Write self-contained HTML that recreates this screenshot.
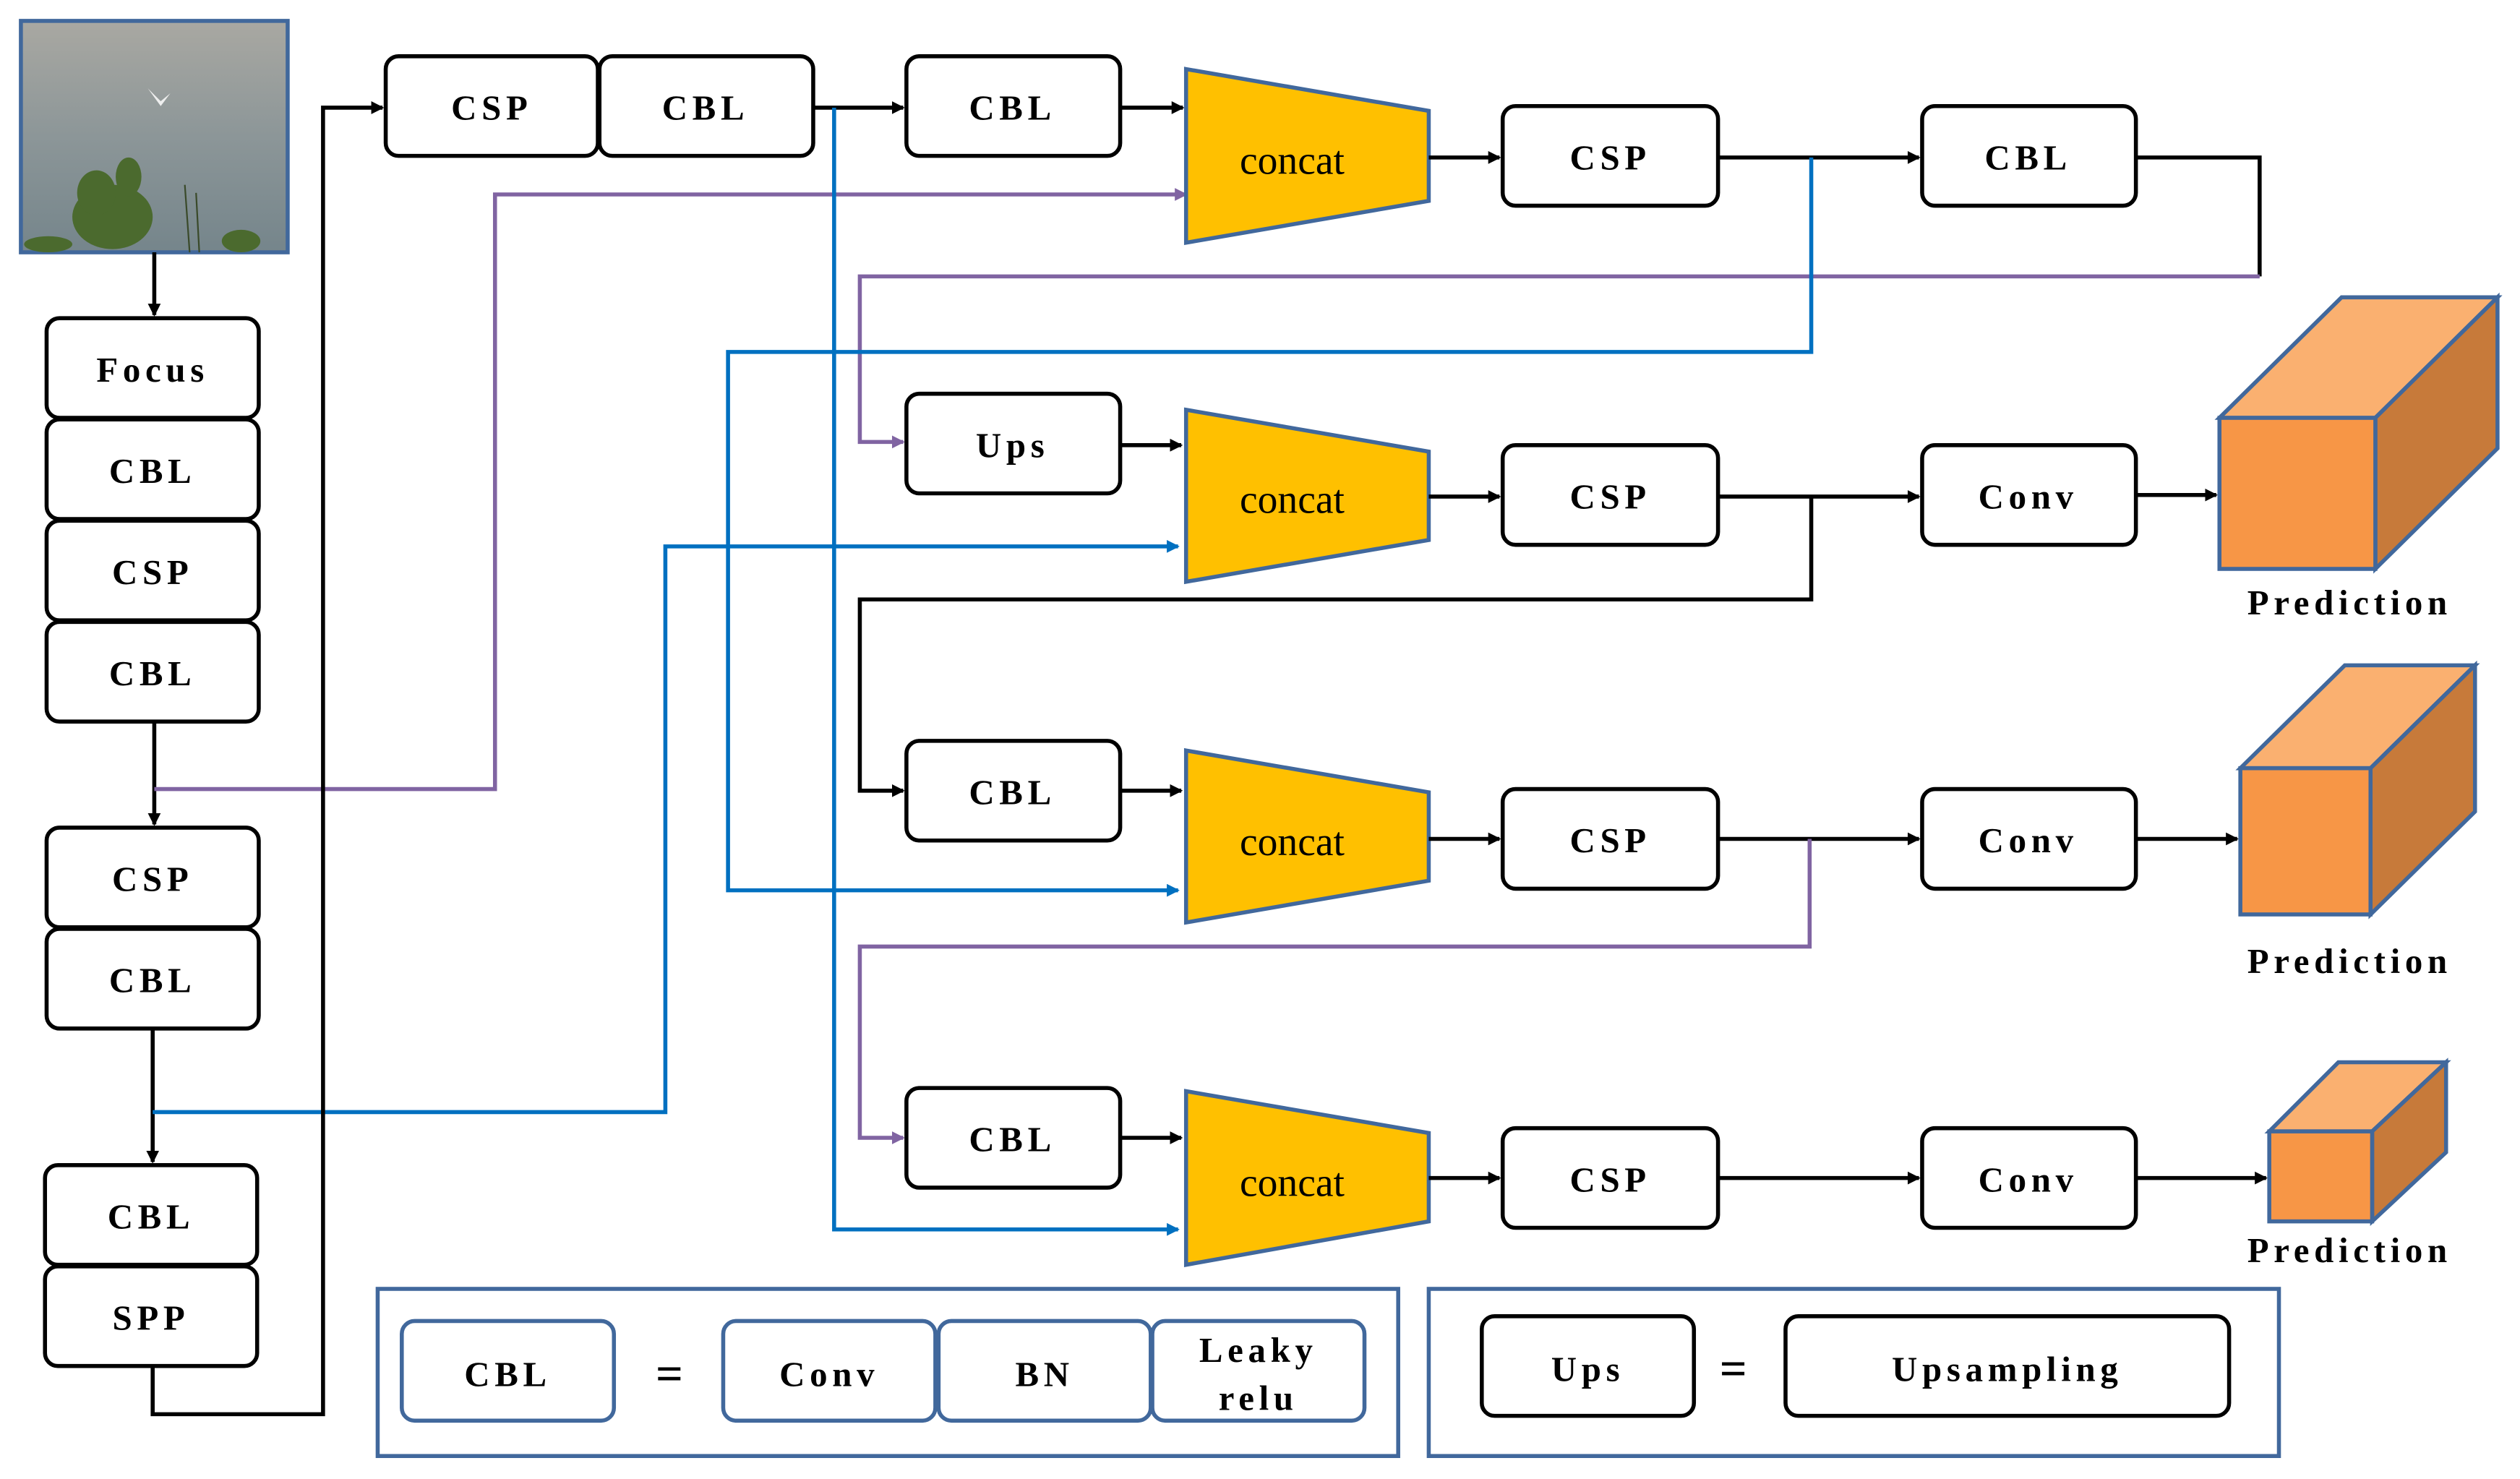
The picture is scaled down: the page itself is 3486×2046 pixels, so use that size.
<!DOCTYPE html>
<html><head><meta charset="utf-8"><style>html,body{margin:0;padding:0;background:#fff}svg{display:block}</style></head>
<body>
<svg width="3486" height="2046" viewBox="0 0 1568 920.3" preserveAspectRatio="none" xmlns="http://www.w3.org/2000/svg">
<defs>
<marker id="ak" markerWidth="8" markerHeight="8" refX="7" refY="4" orient="auto" markerUnits="userSpaceOnUse"><path d="M0,0 L8,4 L0,8 z" fill="#000"/></marker>
<marker id="ab" markerWidth="8" markerHeight="8" refX="7" refY="4" orient="auto" markerUnits="userSpaceOnUse"><path d="M0,0 L8,4 L0,8 z" fill="#0070c0"/></marker>
<marker id="ap" markerWidth="8" markerHeight="8" refX="7" refY="4" orient="auto" markerUnits="userSpaceOnUse"><path d="M0,0 L8,4 L0,8 z" fill="#8064a2"/></marker>
<linearGradient id="sky" x1="0" y1="0" x2="0" y2="1"><stop offset="0" stop-color="#a9a8a2"/><stop offset="0.5" stop-color="#8c9698"/><stop offset="1" stop-color="#75858b"/></linearGradient>
</defs>
<style>
.b{fill:#fff;stroke:#000;stroke-width:2.5}
.lb{fill:#fff;stroke:#41689c;stroke-width:2.5}
.t{font-family:"Liberation Serif",serif;font-weight:bold;font-size:22px;letter-spacing:3px;text-anchor:middle;dominant-baseline:central}
.c{font-family:"Liberation Serif",serif;font-size:25px;text-anchor:middle;dominant-baseline:central}
.k{fill:none;stroke:#000;stroke-width:2.5}
.bl{fill:none;stroke:#0070c0;stroke-width:2.5}
.pu{fill:none;stroke:#8064a2;stroke-width:2.5}
.tr{fill:#ffc000;stroke:#41689c;stroke-width:2.5}
</style>
<rect x="13" y="13" width="166" height="144" fill="url(#sky)" stroke="#41689c" stroke-width="2.5"/>
<path d="M92,55 l8,8 l6,-5 l-6,8 z" fill="#eee"/>
<g fill="#4b6a2e">
<ellipse cx="70" cy="135" rx="25" ry="20"/><ellipse cx="60" cy="120" rx="12" ry="14"/><ellipse cx="80" cy="110" rx="8" ry="12"/><ellipse cx="30" cy="152" rx="15" ry="5"/><ellipse cx="150" cy="150" rx="12" ry="7"/>
</g>
<path d="M118,157 L115,115 M124,157 L122,120" stroke="#3a4a2a" stroke-width="1" fill="none"/>
<g>
<rect class="b" x="29" y="198" width="132" height="62" rx="8"/><text class="t" x="95" y="230">Focus</text>
<rect class="b" x="29" y="261" width="132" height="62" rx="8"/><text class="t" x="95" y="293">CBL</text>
<rect class="b" x="29" y="324" width="132" height="62" rx="8"/><text class="t" x="95" y="356">CSP</text>
<rect class="b" x="29" y="387" width="132" height="62" rx="8"/><text class="t" x="95" y="419">CBL</text>
<rect class="b" x="29" y="515" width="132" height="62" rx="8"/><text class="t" x="95" y="547">CSP</text>
<rect class="b" x="29" y="578" width="132" height="62" rx="8"/><text class="t" x="95" y="610">CBL</text>
<rect class="b" x="28" y="725" width="132" height="62" rx="8"/><text class="t" x="94" y="757">CBL</text>
<rect class="b" x="28" y="788" width="132" height="62" rx="8"/><text class="t" x="94" y="820">SPP</text>
</g>
<path class="k" d="M96,157 V196" marker-end="url(#ak)"/>
<path class="k" d="M96,449 V513" marker-end="url(#ak)"/>
<path class="k" d="M95,640 V723" marker-end="url(#ak)"/>
<path class="pu" d="M96,491 H308 V121 H738" marker-end="url(#ap)"/>
<path class="bl" d="M95,692 H414 V340 H733" marker-end="url(#ab)"/>
<path class="k" d="M95,850 V880 H201 V67 H238" marker-end="url(#ak)"/>
<rect class="b" x="240" y="35" width="132" height="62" rx="8"/><text class="t" x="306" y="67">CSP</text>
<rect class="b" x="373" y="35" width="133" height="62" rx="8"/><text class="t" x="439" y="67">CBL</text>
<rect class="b" x="564" y="35" width="133" height="62" rx="8"/><text class="t" x="630" y="67">CBL</text>
<path class="k" d="M506,67 H562" marker-end="url(#ak)"/>
<path class="k" d="M697,67 H736" marker-end="url(#ak)"/>
<path class="bl" d="M519,67 V765 H733" marker-end="url(#ab)"/>
<polygon class="tr" points="738,43 889,69 889,125 738,151"/><text class="c" x="804" y="100">concat</text>
<path class="k" d="M889,98 H933" marker-end="url(#ak)"/>
<rect class="b" x="935" y="66" width="134" height="62" rx="8"/><text class="t" x="1002" y="98">CSP</text>
<path class="k" d="M1069,98 H1194" marker-end="url(#ak)"/>
<rect class="b" x="1196" y="66" width="133" height="62" rx="8"/><text class="t" x="1262" y="98">CBL</text>
<path class="k" d="M1329,98 H1406 V172"/>
<path class="pu" d="M1406,172 H535 V275 H562" marker-end="url(#ap)"/>
<path class="bl" d="M1127,98 V219 H453 V554 H733" marker-end="url(#ab)"/>
<rect class="b" x="564" y="245" width="133" height="62" rx="8"/><text class="t" x="630" y="277">Ups</text>
<path class="k" d="M697,277 H735" marker-end="url(#ak)"/>
<polygon class="tr" points="738,255 889,281 889,336 738,362"/><text class="c" x="804" y="311">concat</text>
<path class="k" d="M889,309 H933" marker-end="url(#ak)"/>
<rect class="b" x="935" y="277" width="134" height="62" rx="8"/><text class="t" x="1002" y="309">CSP</text>
<path class="k" d="M1069,309 H1194" marker-end="url(#ak)"/>
<rect class="b" x="1196" y="277" width="133" height="62" rx="8"/><text class="t" x="1262" y="309">Conv</text>
<path class="k" d="M1329,308 H1379" marker-end="url(#ak)"/>
<path class="k" d="M1127,309 V373 H535 V492 H562" marker-end="url(#ak)"/>
<g stroke="#41689c" stroke-width="2.5">
<polygon points="1381,260 1457,185 1554,185 1478,260" fill="#fab070"/>
<polygon points="1478,260 1554,185 1554,279 1478,354" fill="#c77a3a"/>
<rect x="1381" y="260" width="97" height="94" fill="#f79646"/>
</g>
<text class="t" x="1462" y="375">Prediction</text>
<rect class="b" x="564" y="461" width="133" height="62" rx="8"/><text class="t" x="630" y="493">CBL</text>
<path class="k" d="M697,492 H735" marker-end="url(#ak)"/>
<polygon class="tr" points="738,467 889,493 889,548 738,574"/><text class="c" x="804" y="524">concat</text>
<path class="k" d="M889,522 H933" marker-end="url(#ak)"/>
<rect class="b" x="935" y="491" width="134" height="62" rx="8"/><text class="t" x="1002" y="523">CSP</text>
<path class="k" d="M1069,522 H1194" marker-end="url(#ak)"/>
<rect class="b" x="1196" y="491" width="133" height="62" rx="8"/><text class="t" x="1262" y="523">Conv</text>
<path class="k" d="M1329,522 H1392" marker-end="url(#ak)"/>
<path class="pu" d="M1126,522 V589 H535 V708 H562" marker-end="url(#ap)"/>
<g stroke="#41689c" stroke-width="2.5">
<polygon points="1394,478 1459,414 1540,414 1475,478" fill="#fab070"/>
<polygon points="1475,478 1540,414 1540,505 1475,569" fill="#c77a3a"/>
<rect x="1394" y="478" width="81" height="91" fill="#f79646"/>
</g>
<text class="t" x="1462" y="598">Prediction</text>
<rect class="b" x="564" y="677" width="133" height="62" rx="8"/><text class="t" x="630" y="709">CBL</text>
<path class="k" d="M697,708 H735" marker-end="url(#ak)"/>
<polygon class="tr" points="738,679 889,705 889,760 738,787"/><text class="c" x="804" y="736">concat</text>
<path class="k" d="M889,733 H933" marker-end="url(#ak)"/>
<rect class="b" x="935" y="702" width="134" height="62" rx="8"/><text class="t" x="1002" y="734">CSP</text>
<path class="k" d="M1069,733 H1194" marker-end="url(#ak)"/>
<rect class="b" x="1196" y="702" width="133" height="62" rx="8"/><text class="t" x="1262" y="734">Conv</text>
<path class="k" d="M1329,733 H1410" marker-end="url(#ak)"/>
<g stroke="#41689c" stroke-width="2.5">
<polygon points="1412,704 1455,661 1522,661 1476,704" fill="#fab070"/>
<polygon points="1476,704 1522,661 1522,717 1476,760" fill="#c77a3a"/>
<rect x="1412" y="704" width="64" height="56" fill="#f79646"/>
</g>
<text class="t" x="1462" y="778">Prediction</text>
<rect x="235" y="802" width="635" height="104" fill="none" stroke="#41689c" stroke-width="2.5"/>
<rect class="lb" x="250" y="822" width="132" height="62" rx="8"/><text class="t" x="316" y="855">CBL</text>
<text class="t" x="418" y="855" style="font-size:30px">=</text>
<rect class="lb" x="450" y="822" width="132" height="62" rx="8"/><text class="t" x="516" y="855">Conv</text>
<rect class="lb" x="584" y="822" width="132" height="62" rx="8"/><text class="t" x="650" y="855">BN</text>
<rect class="lb" x="717" y="822" width="132" height="62" rx="8"/><text class="t" x="783" y="840">Leaky</text><text class="t" x="783" y="870">relu</text>
<rect x="889" y="802" width="529" height="104" fill="none" stroke="#41689c" stroke-width="2.5"/>
<rect class="b" x="922" y="819" width="132" height="62" rx="8"/><text class="t" x="988" y="852">Ups</text>
<text class="t" x="1080" y="852" style="font-size:30px">=</text>
<rect class="b" x="1111" y="819" width="276" height="62" rx="8"/><text class="t" x="1249" y="852">Upsampling</text>
</svg>
</body></html>
